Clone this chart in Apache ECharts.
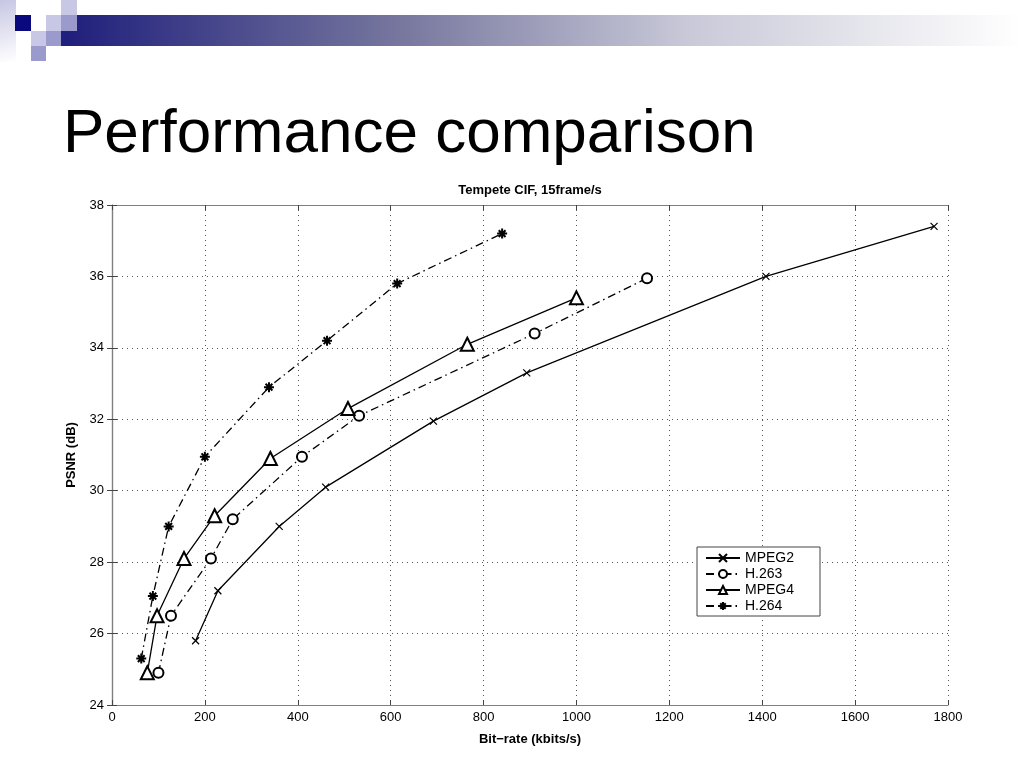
<!DOCTYPE html>
<html>
<head>
<meta charset="utf-8">
<script src="https://cdn.jsdelivr.net/npm/echarts@6/dist/echarts.min.js"></script>
<style>
html,body{margin:0;padding:0;background:#fff;}
#c{width:1024px;height:768px;}
</style>
</head>
<body>
<div id="c"></div>
<script>
// ---- data ----
const seriesNames = ['MPEG2', 'H.263', 'MPEG4', 'H.264'];
const mpeg2X = [180, 228, 360, 460, 692, 893, 1408, 1770];
const mpeg2Y = [25.8, 27.2, 29.0, 30.1, 31.95, 33.3, 36.0, 37.4];
const h263X = [100, 127, 213, 260, 409, 532, 910, 1152];
const h263Y = [24.9, 26.5, 28.1, 29.2, 30.95, 32.1, 34.4, 35.95];
const mpeg4X = [76, 97, 155, 221, 341, 508, 765, 1000];
const mpeg4Y = [24.9, 26.5, 28.1, 29.3, 30.9, 32.3, 34.1, 35.4];
const h264X = [63, 88, 122, 200, 338, 463, 614, 840];
const h264Y = [25.3, 27.05, 29.0, 30.95, 32.9, 34.2, 35.8, 37.2];
const xTicks = [0, 200, 400, 600, 800, 1000, 1200, 1400, 1600, 1800];
const yTicks = [24, 26, 28, 30, 32, 34, 36, 38];

const pairs = (xs, ys) => xs.map((x, i) => [x, ys[i]]);

const FONT = '"Liberation Sans", Arial, Helvetica, sans-serif';
const xPath = 'path://M0,0L10,10M10,0L0,10';
const starPath = 'path://M5,0L5,10M0,5L10,5M1.6,1.6L8.4,8.4M8.4,1.6L1.6,8.4';
const dashDot = [8, 4, 1.5, 4];

const chart = echarts.init(document.getElementById('c'), null, {renderer: 'canvas'});

function mkSeries(name, data, symbol, size, dash, symStyle) {
  return {
    name: name,
    type: 'line',
    data: data,
    symbol: symbol,
    symbolSize: size,
    showAllSymbol: true,
    animation: false,
    lineStyle: {color: '#000', width: 1.3, type: dash},
    itemStyle: Object.assign({color: '#000', borderColor: '#000', borderWidth: 1.2}, symStyle || {}),
    emphasis: {disabled: true},
    z: 3
  };
}

function mkAxis(extra) {
  return Object.assign({
    type: 'value',
    axisLine: {show: true, lineStyle: {color: '#7f7f7f', width: 1.2}},
    axisTick: {show: true, inside: true, length: 5, lineStyle: {color: '#444'}},
    splitLine: {show: false}
  }, extra);
}

const labelFmt = v => String(v);

const option = {
  backgroundColor: '#fff',
  animation: false,
  textStyle: {fontFamily: FONT},
  grid: {left: 112, right: 76, top: 205, bottom: 63, containLabel: false},
  xAxis: [
    mkAxis({
      min: xTicks[0], max: xTicks[xTicks.length - 1], interval: 200, position: 'bottom',
      name: 'Bit\u2212rate (kbits/s)', nameLocation: 'middle', nameGap: 28,
      nameTextStyle: {fontFamily: FONT, fontWeight: 'bold', fontSize: 13, color: '#000'},
      axisLabel: {fontFamily: FONT, fontSize: 13, color: '#000', margin: 6, formatter: labelFmt},
      splitLine: {show: true, lineStyle: {color: '#555', type: [1, 4], width: 1}}
    }),
    mkAxis({
      min: xTicks[0], max: xTicks[xTicks.length - 1], interval: 200, position: 'top',
      axisLabel: {show: false}
    })
  ],
  yAxis: [
    mkAxis({
      min: yTicks[0], max: yTicks[yTicks.length - 1], interval: 2, position: 'left',
      name: 'PSNR (dB)', nameLocation: 'middle', nameGap: 34, nameRotate: 90,
      nameTextStyle: {fontFamily: FONT, fontWeight: 'bold', fontSize: 13, color: '#000'},
      axisLabel: {fontFamily: FONT, fontSize: 13, color: '#000', margin: 8, formatter: labelFmt},
      splitLine: {show: true, lineStyle: {color: '#555', type: [1, 4], width: 1}}
    }),
    mkAxis({
      min: yTicks[0], max: yTicks[yTicks.length - 1], interval: 2, position: 'right',
      axisLabel: {show: false}
    })
  ],
  legend: {
    orient: 'vertical',
    left: 697, top: 547,
    data: seriesNames,
    itemWidth: 34, itemHeight: 10, itemGap: 2,
    padding: [4, 26, 3, 8],
    borderColor: '#444', borderWidth: 1,
    backgroundColor: '#fff',
    textStyle: {fontFamily: FONT, fontSize: 14, color: '#000'},
    selectedMode: false
  },
  series: [
    mkSeries('MPEG2', pairs(mpeg2X, mpeg2Y), xPath, 7, 'solid', {color: 'none'}),
    mkSeries('H.263', pairs(h263X, h263Y), 'emptyCircle', 10, dashDot, {}),
    mkSeries('MPEG4', pairs(mpeg4X, mpeg4Y), 'emptyTriangle', 13, 'solid', {borderWidth: 1.1}),
    mkSeries('H.264', pairs(h264X, h264Y), starPath, 10, dashDot, {color: 'none', borderWidth: 2})
  ],
  graphic: [
    // top-left decoration
    {type: 'rect', left: 0, top: 0, shape: {width: 16, height: 62}, silent: true,
      style: {fill: new echarts.graphic.LinearGradient(0, 0, 1, 1, [{offset: 0, color: '#c6c6e4'}, {offset: 1, color: '#ffffff'}])}},
    {type: 'rect', left: 61, top: 15, shape: {width: 960, height: 31}, silent: true,
      style: {fill: new echarts.graphic.LinearGradient(0, 0, 1, 0, [
        {offset: 0, color: '#1e1e7c'}, {offset: 0.35, color: '#76769e'},
        {offset: 0.65, color: '#c8c8d8'}, {offset: 1, color: '#ffffff'}])}},
    {type: 'rect', left: 61, top: 0, shape: {width: 16, height: 15}, silent: true, style: {fill: '#c8c8e4'}},
    {type: 'rect', left: 15, top: 15, shape: {width: 16, height: 16}, silent: true, style: {fill: '#0a0a7e'}},
    {type: 'rect', left: 46, top: 15, shape: {width: 15, height: 16}, silent: true, style: {fill: '#c8c8e6'}},
    {type: 'rect', left: 61, top: 15, shape: {width: 16, height: 16}, silent: true, style: {fill: '#9a9acc'}},
    {type: 'rect', left: 31, top: 31, shape: {width: 15, height: 15}, silent: true, style: {fill: '#c8c8e6'}},
    {type: 'rect', left: 46, top: 31, shape: {width: 15, height: 15}, silent: true, style: {fill: '#9a9acc'}},
    {type: 'rect', left: 31, top: 46, shape: {width: 15, height: 15}, silent: true, style: {fill: '#9a9acc'}},
    // main heading
    {type: 'text', left: 63, top: 104, silent: true,
      style: {text: 'Performance comparison', fill: '#000', font: '62px ' + FONT}},
    // chart title
    {type: 'text', x: 530, y: 190, silent: true,
      style: {text: 'Tempete CIF, 15frame/s', fill: '#000', font: 'bold 13px ' + FONT,
        textAlign: 'center', textVerticalAlign: 'middle'}}
  ]
};
chart.setOption(option);
</script>
</body>
</html>
